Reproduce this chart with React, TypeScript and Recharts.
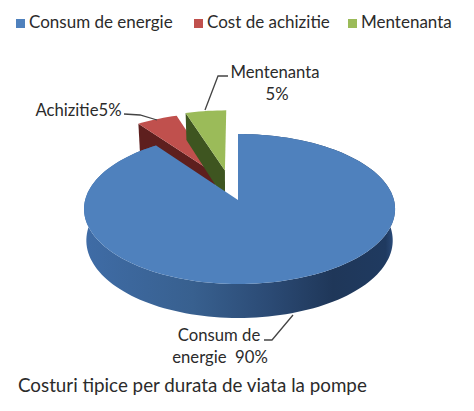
import React from 'react';
import { PieChart, Pie, Legend } from 'recharts';

const categories = ['Consum de energie', 'Cost de achizitie', 'Mentenanta'];
const shares = [90, 5, 5];
const topColors = ['#4f81bd', '#c0504d', '#9bbb59'];
const sideColors = ['#2f4f7f', '#5e1f1e', '#3e5520'];
const title = 'Costuri tipice per durata de viata la pompe';

// how far each slice is pulled out of the disc, in radii
const explodeX = [0, -0.156, -0.09];
const explodeY = [0, 0.37, 0.42];

// slices are painted in this order so the big one covers the walls of the others
const drawOrder = [1, 2, 0];
const pieData = drawOrder.map((i) => ({
  name: categories[i],
  value: shares[i],
  fill: topColors[i],
  side: sideColors[i],
  ox: explodeX[i],
  oy: explodeY[i],
}));

const FONT = 'Lato, sans-serif';
const TEXT = '#2b2b2b';
const WIDTH = 474;
const HEIGHT = 411;
const LEGEND_HEIGHT = 40;

// tilt of the fake 3D disc
const PERSPECTIVE = 0.12;
const SQUASH = 0.4786;
const DEPTH = 31;

const legendLeft = [16, 194, 348];

const labelStyles: Record<string, { lines: { text: string; x: number; y: number }[]; leader: string }> = {
  'Consum de energie': {
    lines: [
      { text: 'Consum de', x: 219, y: 341 },
      { text: 'energie  90%', x: 220, y: 363 },
    ],
    leader: '293,315 272,340 264,340',
  },
  'Cost de achizitie': {
    lines: [{ text: 'Achizitie5%', x: 78.5, y: 116 }],
    leader: '124,114 140,115 157,120',
  },
  Mentenanta: {
    lines: [
      { text: 'Mentenanta', x: 275, y: 78 },
      { text: '5%', x: 277, y: 100 },
    ],
    leader: '205,110 218,76 228,76',
  },
};

function Slice3D(props: any) {
  const { cx, cy, outerRadius, startAngle, endAngle, fill, payload } = props;
  const { ox, oy } = payload;

  const project = (u: number, v: number) => {
    const w = 1 + PERSPECTIVE * (v + oy);
    const uu = u + ox;
    return {
      x: cx + (outerRadius * uu * (uu < 0 ? 0.99 : 1.01)) / w,
      y: cy - (outerRadius * SQUASH * (v + oy)) / w,
      v: v + oy,
    };
  };
  const lower = (p: { x: number; y: number; v: number }) => ({
    x: cx + (p.x - cx) * 0.985,
    y: p.y + DEPTH - 3 * p.v,
    v: p.v,
  });
  const str = (pts: { x: number; y: number }[]) => pts.map((p) => `${p.x},${p.y}`).join(' ');

  const steps = Math.ceil(Math.abs(startAngle - endAngle) / 2);
  const rim = [];
  for (let i = 0; i <= steps; i++) {
    const a = ((startAngle + ((endAngle - startAngle) * i) / steps) * Math.PI) / 180;
    rim.push(project(Math.cos(a), Math.sin(a)));
  }
  const apex = project(0, 0);
  const first = rim[0];
  const big = ox === 0 && oy === 0;

  return (
    <g>
      <defs>
        <linearGradient id="wallBlue" gradientUnits="userSpaceOnUse" x1={84} x2={395} y1={0} y2={0}>
          <stop offset="0" stopColor="#3f6ca6" />
          <stop offset="0.35" stopColor="#38608f" />
          <stop offset="0.6" stopColor="#2b4a74" />
          <stop offset="0.8" stopColor="#1f3759" />
          <stop offset="0.97" stopColor="#1f3a60" />
          <stop offset="1" stopColor="#2d4f80" />
        </linearGradient>
      </defs>
      {/* small slices only show the cut face on their left, the big one only its front wall */}
      {big ? (
        <polygon points={str([...rim, ...rim.map(lower).reverse()])} fill="url(#wallBlue)" />
      ) : (
        <polygon points={str([first, apex, lower(apex), lower(first)])} fill={payload.side} />
      )}
      <polygon points={str([apex, ...rim])} fill={fill} />
    </g>
  );
}

function SliceLabel(props: any) {
  const style = labelStyles[props.name];
  if (!style) return null;
  return (
    <g>
      <polyline points={style.leader} fill="none" stroke="#444444" strokeWidth={1.3} />
      {style.lines.map((l) => (
        <text
          key={l.text}
          x={l.x}
          y={l.y}
          textAnchor="middle"
          fontFamily={FONT}
          fontSize={16.7}
          fill={TEXT}
          style={{ whiteSpace: 'pre' }}
        >
          {l.text}
        </text>
      ))}
    </g>
  );
}

function TopLegend() {
  return (
    <div style={{ position: 'relative', width: WIDTH, height: LEGEND_HEIGHT, fontFamily: FONT, fontSize: 17, color: TEXT }}>
      {categories.map((name, i) => (
        <div key={name} style={{ position: 'absolute', left: legendLeft[i], top: 11, whiteSpace: 'nowrap' }}>
          <span
            style={{
              display: 'inline-block',
              width: 9,
              height: 9,
              marginRight: 4,
              background: topColors[i],
            }}
          />
          {name}
        </div>
      ))}
    </div>
  );
}

export default function App() {
  return (
    <div style={{ position: 'absolute', left: 0, top: 0, width: WIDTH, height: HEIGHT, background: '#fff' }}>
      <PieChart width={WIDTH} height={HEIGHT} margin={{ top: 0, right: 0, bottom: 0, left: 0 }}>
        <Legend
          verticalAlign="top"
          content={() => <TopLegend />}
          wrapperStyle={{ left: 0, top: 0, width: WIDTH }}
        />
        <Pie
          data={pieData}
          dataKey="value"
          nameKey="name"
          cx={238}
          cy={200 - LEGEND_HEIGHT}
          outerRadius={154.4}
          startAngle={126}
          endAngle={-234}
          stroke="none"
          shape={Slice3D}
          label={SliceLabel}
          labelLine={false}
          isAnimationActive={false}
        />
        <text x={18} y={392} fontFamily={FONT} fontSize={18.8} fill={TEXT}>
          {title}
        </text>
      </PieChart>
    </div>
  );
}
